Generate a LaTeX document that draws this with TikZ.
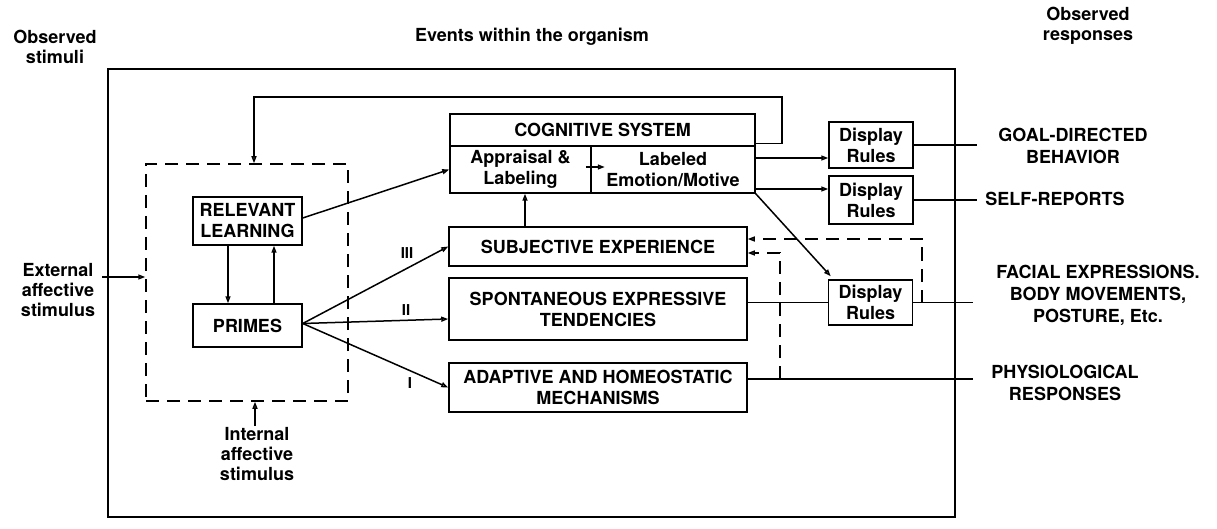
\documentclass[tikz,border=0pt]{standalone}
\usepackage{fontspec}
\newfontfamily\hv{TeX Gyre Heros}
\usetikzlibrary{arrows.meta,calc}
\begin{document}
\begin{tikzpicture}[x=1pt,y=-1pt,
  line width=1.5pt,
  lbl/.style={font=\hv\bfseries\fontsize{18}{20}\selectfont, inner sep=0pt, align=center},
  rlbl/.style={inner sep=0pt, align=center, font=\hv\bfseries\fontsize{18}{22}\selectfont},
  roman/.style={inner sep=0pt, font=\hv\bfseries\fontsize{15}{15}\selectfont},
  box/.style={draw, line width=1.5pt, inner sep=0pt, align=center, font=\hv\bfseries\fontsize{18}{21}\selectfont},
  arr/.style={-{Triangle[open,length=7pt,width=5pt]}},
  dsh/.style={dash pattern=on 13pt off 8pt},
]
\useasboundingbox (0,0) rectangle (1217,529);

% frames
\node[box, minimum width=847pt, minimum height=448pt] (outer) at (531.5,293) {};
\node[box, dsh, minimum width=202pt, minimum height=237pt] (dbox) at (247,282.5) {};

% boxes
\node[box, minimum width=109pt, minimum height=48pt] (rel) at (247.5,221) {RELEVANT\\LEARNING};
\node[box, minimum width=109pt, minimum height=43pt] (primes) at (247.5,325.5) {PRIMES};
\node[box, minimum width=305pt, minimum height=32pt] (cogt) at (602.5,130) {COGNITIVE SYSTEM};
\node[box, minimum width=141pt, minimum height=47pt] (appr) at (520.5,169.5) {Appraisal \&\\Labeling};
\node[box, minimum width=164pt, minimum height=47pt] (labm) at (673,169.5) {Labeled\\Emotion/Motive};
\node[box, minimum width=298pt, minimum height=39pt] (subj) at (598,246.5) {SUBJECTIVE EXPERIENCE};
\node[box, minimum width=298pt, minimum height=62pt] (spont) at (598,309) {SPONTANEOUS EXPRESSIVE\\TENDENCIES};
\node[box, minimum width=298pt, minimum height=49pt] (adapt) at (598,387.5) {ADAPTIVE AND HOMEOSTATIC\\MECHANISMS};
\node[box, minimum width=84pt, minimum height=46pt] (dr1) at (871,145) {Display\\Rules};
\node[box, minimum width=84pt, minimum height=48pt] (dr2) at (871,200) {Display\\Rules};
\node[box, minimum width=84pt, minimum height=45pt] (dr3) at (870.5,302.5) {Display\\Rules};

% labels
\node[lbl] (obsS) at (55,47) {Observed\\stimuli};
\node[lbl] (events) at (532,37) {Events within the organism};
\node[lbl] (obsR) at (1088,26) {Observed\\responses};
\node[lbl] (ext) at (58,290) {External\\affective\\stimulus};
\node[lbl] (int) at (257,454) {Internal\\affective\\stimulus};
\node[roman] (l3) at (407,253) {III};
\node[roman] (l2) at (406,310) {II};
\node[roman] (l1) at (410,383) {I};
\node[rlbl] (goal) at (1073,146) {GOAL-DIRECTED\\BEHAVIOR};
\node[rlbl] (self) at (1055,199) {SELF-REPORTS};
\node[rlbl] (facial) at (1098,295) {FACIAL EXPRESSIONS.\\BODY MOVEMENTS,\\POSTURE, Etc.};
\node[rlbl] (phys) at (1065,383) {PHYSIOLOGICAL\\RESPONSES};

% feedback loop
\coordinate (lp1) at (782,97);
\coordinate (lp2) at (254,97);
\draw[arr] ($(cogt.south east)+(0,-3)$) -| (lp1) -- (lp2) -- (lp2 |- dbox.north);

% stimuli
\coordinate (exs) at (102,277);
\draw[arr] (exs) -- (exs -| dbox.west);
\coordinate (ins) at (255,426);
\draw[arr] (ins) -- (ins |- dbox.south);

% learning <-> primes
\draw[arr] ([xshift=-19.5pt]rel.south) -- ([xshift=-19.5pt]primes.north);
\draw[arr] ([xshift=26.5pt]primes.north) -- ([xshift=26.5pt]rel.south);
\draw[arr] ([yshift=3pt]rel.east) -- (appr.west);

% primes fan
\draw[arr] ([yshift=2pt]primes.east) -- (subj.west);
\draw[arr] ([yshift=2pt]primes.east) -- ([yshift=-10pt]spont.west);
\draw[arr] ([yshift=2pt]primes.east) -- (adapt.west);

% subjective -> cognitive
\draw[arr] ($(subj.north)+(-73,0)$) -- ($(appr.south)+(4.5,0)$);
\draw[arr] ($(appr.east)+(-6,-2.5)$) -- ++(19,0);

% cognitive -> display rules
\coordinate (a1) at ([yshift=11.5pt]labm.east);
\draw[arr] (a1) -- (a1 -| dr1.west);
\coordinate (a2) at ([yshift=-19.5pt]labm.east);
\draw[arr] (a2) -- (a2 -| dr2.west);
\draw[arr] (labm.south east) -- ([xshift=3pt,yshift=3pt]dr3.north west);
\draw (dr3.west) -- (dr3.west -| spont.east);

% outputs
\coordinate (e1) at (977,145);
\draw (dr1.east) -- (e1);
\coordinate (e2) at (977,200);
\draw (dr2.east) -- (e2);
\coordinate (e3) at (973,302.5);
\draw (dr3.east) -- (e3);
\coordinate (e4) at (973,379);
\draw ([yshift=8.5pt]adapt.east) -- (e4);

% dashed feedback
\coordinate (d1) at (922,302.5);
\coordinate (t1) at ([yshift=7.5pt]subj.east);
\draw[arr,dsh] (d1) |- (t1);
\coordinate (d2) at (780,379);
\coordinate (t2) at ([yshift=-6.5pt]subj.east);
\draw[arr,dsh] (d2) |- (t2);
\end{tikzpicture}
\end{document}
